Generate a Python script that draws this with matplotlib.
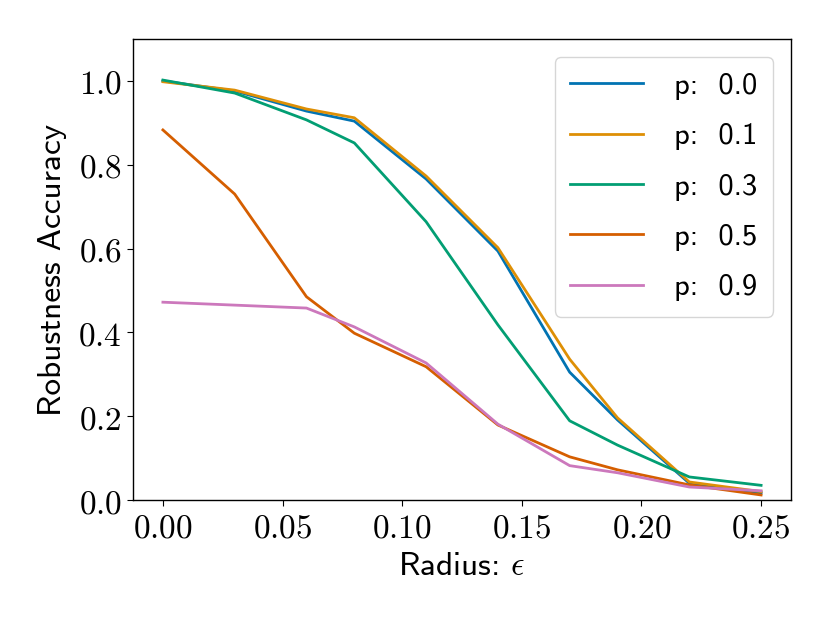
import matplotlib
matplotlib.use('Agg')
import matplotlib.pyplot as plt
from matplotlib import rcParams
from matplotlib.ticker import FuncFormatter

# radius values and accuracy per p
radius = [0.0, 0.03, 0.06, 0.08, 0.11, 0.14, 0.17, 0.19, 0.22, 0.25]
acc_p00 = [1.000, 0.976, 0.928, 0.904, 0.766, 0.594, 0.305, 0.191, 0.040, 0.017]
acc_p01 = [0.998, 0.978, 0.933, 0.912, 0.773, 0.602, 0.336, 0.196, 0.043, 0.020]
acc_p03 = [1.002, 0.971, 0.907, 0.852, 0.664, 0.418, 0.189, 0.131, 0.055, 0.035]
acc_p05 = [0.883, 0.730, 0.485, 0.398, 0.318, 0.179, 0.103, 0.072, 0.036, 0.012]
acc_p09 = [0.472, 0.465, 0.458, 0.413, 0.327, 0.181, 0.082, 0.065, 0.031, 0.022]
p_labels = ['0.0', '0.1', '0.3', '0.5', '0.9']

colors = ['#0173b2', '#de8f05', '#029e73', '#d55e00', '#cc78bc']

config = {
    "mathtext.fontset": 'cm',
    "font.size": 24,
    "axes.linewidth": 1.0,
    "xtick.major.size": 4.5,
    "ytick.major.size": 4.5,
}
rcParams.update(config)

fig = plt.figure(figsize=(8.3, 6.23), dpi=100)
ax = fig.add_axes([133 / 830, 123 / 623, 658 / 830, 461 / 623])

series = [acc_p00, acc_p01, acc_p03, acc_p05, acc_p09]
for vals, lab, c in zip(series, p_labels, colors):
    ax.plot(radius, vals, color=c, lw=2.0, label='p:  ' + lab)

ax.set_ylim(0, 1.1)
ax.set_xticks([0.0, 0.05, 0.10, 0.15, 0.20, 0.25])
ax.set_yticks([0.0, 0.2, 0.4, 0.6, 0.8, 1.0])
ax.xaxis.set_major_formatter(FuncFormatter(lambda v, p: '$%.2f$' % v))
ax.yaxis.set_major_formatter(FuncFormatter(lambda v, p: '$%.1f$' % v))

ax.set_xlabel(r'Radius: $\epsilon$', family='cmss10', labelpad=6)
ax.set_ylabel('Robustness Accuracy', family='cmss10', labelpad=8)

ax.legend(loc='upper right', prop={'family': 'cmss10', 'size': 22},
          handlelength=2.4, handletextpad=1.0, labelspacing=0.75,
          borderpad=0.5, borderaxespad=0.6, framealpha=0.8)

plt.savefig('out.png', dpi=100)
